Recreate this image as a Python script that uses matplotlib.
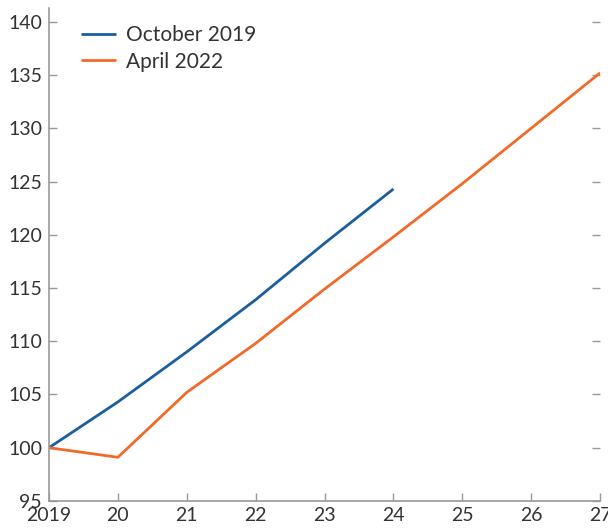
import matplotlib
matplotlib.use("Agg")
import matplotlib.pyplot as plt

plt.rcParams["font.family"] = ["Lato", "DejaVu Sans"]

years = [2019, 2020, 2021, 2022, 2023, 2024, 2025, 2026, 2027]
oct_2019 = [100, 104.3, 109.0, 113.9, 119.2, 124.3]
apr_2022 = [100, 99.1, 105.2, 109.8, 114.9, 119.8, 124.8, 130.0, 135.2]
x_labels = ["2019", "20", "21", "22", "23", "24", "25", "26", "27"]
y_ticks = [95, 100, 105, 110, 115, 120, 125, 130, 135, 140]

text_col = "#333333"
axis_col = "#9a9a9a"

fig = plt.figure(figsize=(6.08, 5.29), dpi=100)
ax = fig.add_axes([0.0806, 0.053, 0.9064, 0.932])

ax.plot(years[:len(oct_2019)], oct_2019, color="#1b5e9e", lw=2.0,
        label="October 2019", solid_capstyle="butt")
ax.plot(years, apr_2022, color="#f26a2a", lw=2.0,
        label="April 2022", solid_capstyle="butt")

ax.set_xlim(2019, 2027)
ax.set_ylim(95, 141.3)
ax.set_xticks(years)
ax.set_xticklabels(x_labels)
ax.set_yticks(y_ticks)

for s in ["top", "right"]:
    ax.spines[s].set_visible(False)
for s in ["left", "bottom"]:
    ax.spines[s].set_color(axis_col)
    ax.spines[s].set_linewidth(1.2)

ax.tick_params(axis="both", direction="in", length=6, width=1.0,
               color=axis_col, labelcolor=text_col, labelsize=14)
ax.tick_params(axis="y", right=True, pad=5)
ax.tick_params(axis="x", pad=4)
for lbl in ax.get_xticklabels():
    lbl.set_clip_on(False)

leg = ax.legend(loc="upper left", bbox_to_anchor=(0.035, 0.99), frameon=False,
                fontsize=15, handlelength=1.7, handletextpad=0.45,
                labelspacing=0.3, borderaxespad=0.2)
for t in leg.get_texts():
    t.set_color(text_col)

fig.savefig("out.png", dpi=100)
